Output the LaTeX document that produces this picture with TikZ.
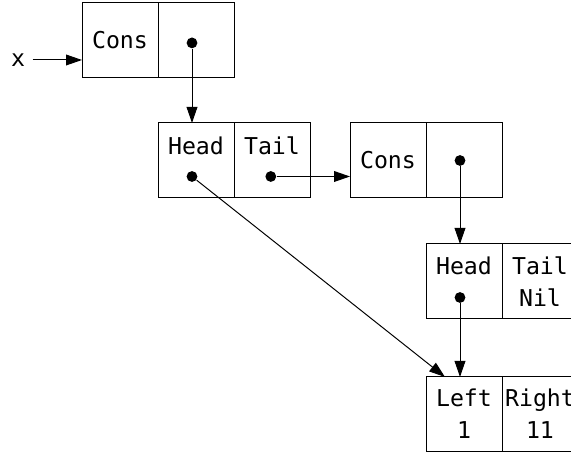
\documentclass[tikz,border=0pt]{standalone}
\usepackage{fontspec}
\setmonofont{DejaVu Sans Mono}
\usetikzlibrary{positioning,arrows.meta}

\tikzset{
  cell/.style={draw, outer sep=0pt, inner sep=0pt, minimum width=1.9cm, minimum height=1.875cm,
    font=\ttfamily\fontsize{16.5}{19}\selectfont},
  lbl/.style={inner sep=0pt, anchor=base, font=\ttfamily\fontsize{16.5}{19}\selectfont},
  dot/.style={circle, fill, inner sep=0pt, minimum size=0.27cm},
  ptr/.style={-{Triangle[length=0.4cm,width=0.27cm]}},
}

\begin{document}
\begin{tikzpicture}[line width=0.7pt]
\useasboundingbox (0,0) rectangle (14.275,11.35);

% x -> Cons
\node[lbl, anchor=center, inner sep=5pt] (x) at (0.45,9.85) {x};
\node[cell] (cons1) at (3.0,10.3375) {Cons};
\node[cell, right=0pt of cons1] (cons1ptr) {};
\node[dot, xshift=-1mm, yshift=-0.6mm] (d1) at (cons1ptr.center) {};

% Head | Tail
\node[cell] (head1) at (4.9,7.3375) {};
\node[cell, right=0pt of head1] (tail1) {};
\node[lbl, yshift=1.6mm] (head1txt) at (head1.center) {Head};
\node[lbl, yshift=1.6mm] (tail1txt) at (tail1.center) {Tail};
\node[dot, xshift=-1mm, yshift=-4mm] (d2) at (head1.center) {};
\node[dot, xshift=-0.3mm, yshift=-4mm] (d3) at (tail1.center) {};

% second Cons
\node[cell] (cons2) at (9.7,7.3375) {Cons};
\node[cell, right=0pt of cons2] (cons2ptr) {};
\node[dot, xshift=-1mm] (d4) at (cons2ptr.center) {};

% Head | Tail Nil
\node[cell] (head2) at (11.6,4.3125) {};
\node[cell, right=0pt of head2] (tail2) {};
\node[lbl, yshift=1.8mm] (head2txt) at (head2.center) {Head};
\node[lbl, yshift=1.8mm] (tail2txt) at (tail2.center) {Tail};
\node[lbl, yshift=-6.2mm] (niltxt) at (tail2.center) {Nil};
\node[dot, xshift=-1mm, yshift=-4mm] (d5) at (head2.center) {};

% Left 1 | Right 11
\node[cell] (left) at (11.6,0.9875) {};
\node[cell, right=0pt of left] (right) {};
\node[lbl, yshift=1.9mm] (lefttxt) at (left.center) {Left};
\node[lbl, yshift=-6mm] (leftval) at (left.center) {1};
\node[lbl, yshift=1.9mm] (righttxt) at (right.center) {Right};
\node[lbl, yshift=-6mm] (rightval) at (right.center) {11};
\coordinate (leftin) at ([xshift=4.75mm]left.north west);

% pointers
\draw[ptr] (x) -- (x -| cons1.west);
\draw[ptr] (d1) -- (d1 |- head1.north);
\draw[ptr] (d3) -- (d3 -| cons2.west);
\draw[ptr] (d4) -- (d4 |- head2.north);
\draw[ptr] (d5) -- (d5 |- left.north);
\draw[ptr] (d2) -- (leftin);
\end{tikzpicture}
\end{document}
